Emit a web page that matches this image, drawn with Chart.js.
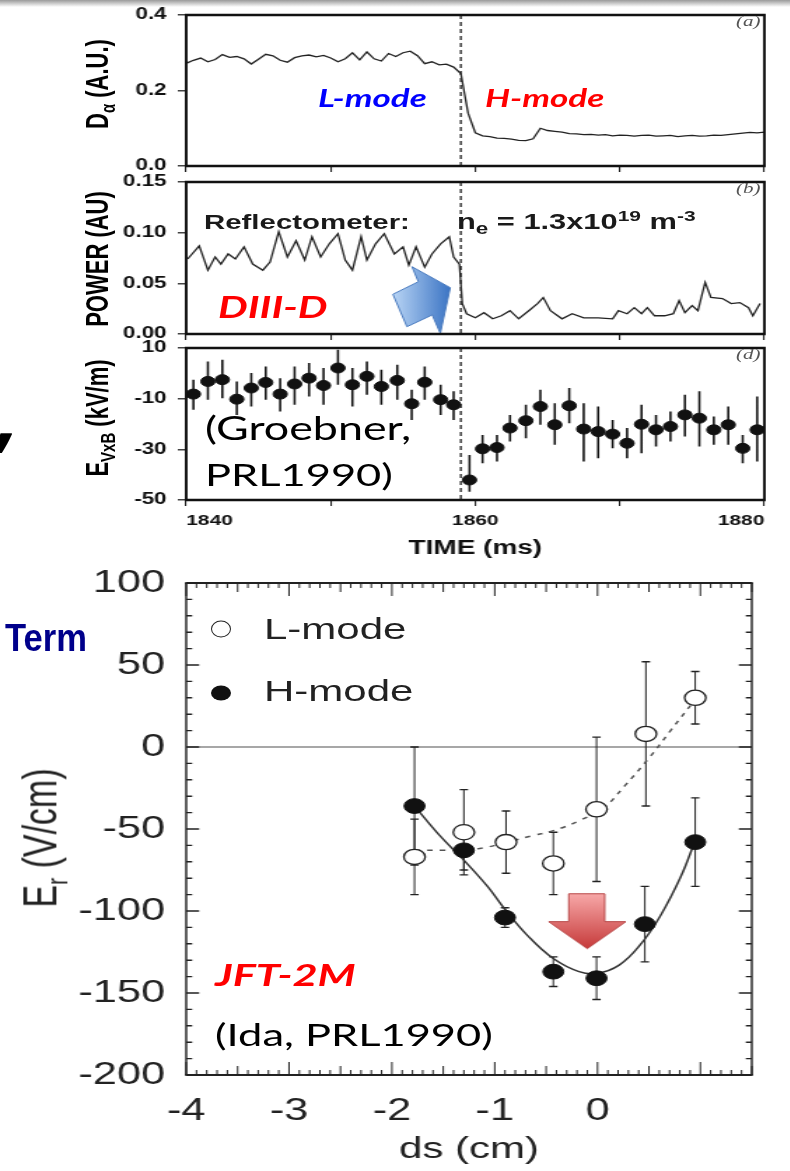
<!DOCTYPE html>
<html>
<head>
<meta charset="utf-8">
<script src="https://cdn.jsdelivr.net/npm/chart.js@4.4.1/dist/chart.umd.min.js"></script>
<style>
  body { margin: 0; width: 790px; height: 1171px; position: relative; overflow: hidden; background: #fff;
         font-family: 'Liberation Sans', Arial, sans-serif; }
  /* the source figure is stretched sideways ~1.4x, so charts are drawn narrow and widened */
  .cw { position: absolute; left: 0; transform-origin: 0 0; transform: scaleX(1.4); }
  canvas { display: block; }
  .topbar { position: absolute; left: 0; top: 0; width: 790px; height: 7px; background: linear-gradient(#9a9a9a, #fff); }
  .t { position: absolute; white-space: nowrap; line-height: 1; transform-origin: 0 50%; transform: translateY(-50%) scaleX(1.4); }
  .yt { position: absolute; white-space: nowrap; line-height: 1; transform: translate(-50%, -50%) scaleX(1.4) rotate(-90deg); }
  .cal { font-family: Lato, 'Open Sans', sans-serif; }
  .mode { font-family: Lato, 'Open Sans', sans-serif; font-weight: bold; font-style: italic; }
  .tag { font-family: 'Liberation Serif', serif; font-style: italic; font-size: 15px; color: #555; }
  .mk { position: absolute; border-radius: 50%; box-sizing: border-box; transform: translate(-50%, -50%); }
  sub, sup { line-height: 0; }
</style>
</head>
<body>
<div class="topbar"></div>
<div class="cw" style="top:0"><canvas id="cA" width="564" height="172"></canvas></div>
<div class="cw" style="top:172px"><canvas id="cB" width="564" height="168"></canvas></div>
<div class="cw" style="top:340px"><canvas id="cD" width="564" height="232"></canvas></div>
<div class="cw" style="top:560px"><canvas id="cE" width="564" height="611"></canvas></div>

<!-- top panels: axis titles + notes -->
<div class="yt" style="left:98px;top:84px;font:bold 22px 'Liberation Sans'">D<sub style="font-size:15px">α</sub> (A.U.)</div>
<div class="yt" style="left:98px;top:259px;font:bold 22px 'Liberation Sans'">POWER (AU)</div>
<div class="yt" style="left:98px;top:418px;font:bold 22px 'Liberation Sans'">E<sub style="font-size:15px">VxB</sub> (kV/m)</div>
<div class="t tag" style="left:736px;top:21px">(a)</div>
<div class="t tag" style="left:736px;top:188px">(b)</div>
<div class="t tag" style="left:736px;top:354px">(d)</div>
<div class="t mode" style="left:318px;top:97px;font-size:25px;color:#0000ff">L-mode</div>
<div class="t mode" style="left:485px;top:97px;font-size:25px;color:#ff0000">H-mode</div>
<div class="t" style="left:204px;top:222px;font:bold 21px 'Liberation Sans';color:#1a1a1a">Reflectometer:</div>
<div class="t" style="left:457px;top:222px;font:bold 22px 'Liberation Sans';color:#1a1a1a">n<sub style="font-size:16px">e</sub> = 1.3x10<sup style="font-size:15px">19</sup> m<sup style="font-size:15px">-3</sup></div>
<div class="t mode" style="left:218px;top:306px;font-size:30px;color:#ff0000">DIII-D</div>
<div class="t cal" style="left:205px;top:428px;font-size:32px;color:#000">(Groebner,</div>
<div class="t cal" style="left:205px;top:474px;font-size:31px;color:#000">PRL1990)</div>
<div style="position:absolute;left:-3px;top:372px;font:bold italic 80px 'Open Sans';line-height:1;color:#000">,</div>
<div class="t" style="left:5px;top:638px;font:bold 38px 'Liberation Sans';color:#00008b;transform:translateY(-50%) scaleX(0.91)">Term</div>

<!-- bottom chart: title, legend, notes -->
<div class="yt" style="left:40px;top:838px;font-size:34px;color:#222">E<sub style="font-size:21px">r</sub> (V/cm)</div>
<div class="mk" style="left:221px;top:629px;width:20px;height:17px;border:1.6px solid #222;background:#fff"></div>
<div class="t" style="left:264px;top:629px;font-size:30px;color:#222">L-mode</div>
<div class="mk" style="left:221px;top:693px;width:20px;height:15px;background:#111"></div>
<div class="t" style="left:264px;top:691px;font-size:30px;color:#222">H-mode</div>
<div class="t mode" style="left:215px;top:974px;font-size:31px;color:#ff0000">JFT-2M</div>
<div class="t cal" style="left:215px;top:1034px;font-size:31px;color:#000">(Ida, PRL1990)</div>

<script>
// ── panel (a): D-alpha trace
const daTime = [1840,1840.5,1841,1841.5,1842,1842.5,1843,1843.5,1844,1844.5,1845,1845.5,1846,1846.5,1847,1847.5,1848,1848.5,1849,1849.5,
  1850,1850.5,1851,1851.5,1852,1852.5,1853,1853.5,1854,1854.5,1855,1855.5,1856,1856.5,1857,1857.5,1858,1858.5,1859,1859.5,
  1860,1860.5,1861,1861.5,1862,1862.5,1863,1863.5,1864,1864.5,1865,1865.5,1866,1866.5,1867,1867.5,1868,1868.5,1869,1869.5,
  1870,1870.5,1871,1871.5,1872,1872.5,1873,1873.5,1874,1874.5,1875,1875.5,1876,1876.5,1877,1877.5,1878,1878.5,1879,1879.5,1880];
const daVal = [0.272,0.280,0.286,0.276,0.282,0.295,0.288,0.290,0.284,0.270,
  0.283,0.296,0.292,0.280,0.275,0.287,0.292,0.294,0.289,0.293,
  0.286,0.276,0.284,0.300,0.281,0.302,0.284,0.278,0.298,0.290,
  0.300,0.304,0.292,0.271,0.276,0.268,0.270,0.262,0.245,0.140,
  0.088,0.080,0.078,0.074,0.073,0.071,0.068,0.067,0.072,0.100,
  0.094,0.092,0.090,0.086,0.085,0.083,0.084,0.082,0.083,0.080,
  0.082,0.081,0.079,0.081,0.082,0.079,0.080,0.081,0.078,0.080,
  0.081,0.079,0.080,0.082,0.081,0.083,0.085,0.087,0.089,0.088,0.090];

// ── panel (b): reflectometer power
const pTime = [1840.1,1840.9,1841.5,1842.0,1842.4,1842.9,1843.4,1844.0,1844.6,1845.3,
  1845.8,1846.4,1847.0,1847.6,1848.2,1848.7,1849.3,1849.9,1850.5,1851.0,
  1851.5,1852.1,1852.5,1853.1,1853.7,1854.4,1855.0,1855.4,1855.9,1856.5,
  1857.0,1857.6,1858.2,1858.5,1858.9,1859.1,1859.4,1860.0,1860.6,1861.2,
  1861.8,1862.4,1863.0,1863.7,1864.3,1864.7,1865.2,1866.0,1866.7,1867.5,
  1868.5,1869.5,1869.9,1870.5,1871.0,1871.5,1871.9,1872.4,1873.1,1873.7,
  1874.1,1874.5,1875.0,1875.4,1875.9,1876.3,1877.1,1877.7,1878.3,1878.9,1879.2,1879.7];
const pVal = [0.074,0.087,0.063,0.076,0.069,0.079,0.074,0.086,0.069,0.063,
  0.071,0.101,0.076,0.092,0.073,0.096,0.076,0.089,0.099,0.073,
  0.063,0.096,0.073,0.089,0.099,0.079,0.086,0.068,0.086,0.066,
  0.079,0.089,0.096,0.076,0.069,0.030,0.020,0.016,0.021,0.015,
  0.018,0.023,0.015,0.023,0.030,0.036,0.023,0.015,0.020,0.016,
  0.016,0.015,0.023,0.020,0.026,0.020,0.026,0.018,0.018,0.020,
  0.033,0.021,0.028,0.023,0.051,0.036,0.035,0.030,0.031,0.026,0.018,0.030];

// ── panel (d): E_VxB with error bars
const eTime = [1840.5,1841.5,1842.5,1843.5,1844.5,1845.5,1846.5,1847.5,1848.5,1849.5,
  1850.5,1851.5,1852.5,1853.5,1854.6,1855.6,1856.5,1857.6,1858.5,1859.6,
  1860.5,1861.5,1862.4,1863.5,1864.5,1865.5,1866.5,1867.5,1868.5,1869.5,
  1870.5,1871.5,1872.5,1873.5,1874.5,1875.5,1876.5,1877.5,1878.5,1879.5];
const eVal = [-8.2,-3.2,-2.5,-10.2,-5.8,-3.6,-8.2,-4.2,-1.9,-4.8,
  2.1,-4.5,-1.2,-5.2,-2.8,-12.0,-3.5,-10.4,-12.4,-42.1,
  -29.8,-29.3,-21.6,-18.7,-13.1,-20.3,-12.8,-22.0,-23.0,-24.0,
  -27.6,-20.1,-22.3,-21.0,-16.4,-17.7,-22.3,-20.3,-29.6,-22.3];
const eHi = [-2.5,4.7,5.4,-3.2,0.1,2.7,-1.9,2.7,4.1,2.1,
  9.3,2.1,4.7,1.4,3.4,-6.5,2.7,-4.5,-7.1,-32.2,
  -24.3,-24.3,-16.4,-12.4,-6.5,-11.8,-5.8,-11.8,-13.1,-18.4,
  -21.6,-12.4,-16.4,-15.1,-8.5,-7.1,-17.0,-13.1,-24.3,-9.1];
const eLo = [-14.4,-10.4,-9.8,-16.4,-13.1,-10.4,-15.1,-12.4,-9.1,-12.4,
  -4.5,-13.1,-8.5,-12.4,-10.4,-18.4,-10.4,-16.4,-18.4,-46.7,
  -35.5,-34.8,-26.9,-25.6,-20.3,-28.2,-19.7,-34.8,-33.5,-29.6,
  -33.5,-31.5,-28.9,-26.9,-24.9,-28.9,-28.2,-28.2,-35.5,-34.8];
const transitionTime = 1859;

// ── bottom: Er profile (JFT-2M)
const lX = [-1.78,-1.30,-0.89,-0.43,-0.01,0.47,0.95];
const lY = [-67,-52,-58,-71,-38,8,30];
const lErr = [23,26,19,19,44,44,16];
const hX = [-1.78,-1.30,-0.90,-0.43,-0.01,0.46,0.95];
const hY = [-36,-63,-104,-137,-141,-108,-58];
const hErr = [36,12,6,9,13,23,27];
const hFitX = [-1.78,-1.52,-1.30,-1.07,-0.90,-0.68,-0.43,-0.18,0,0.21,0.41,0.61,0.81,0.95];
const hFitY = [-36,-55,-69,-85,-99,-115,-129,-137,-138,-133,-121,-103,-79,-57];
const lFitX = [-1.78,-1.52,-1.30,-1.07,-0.88,-0.63,-0.43,-0.18,0.06,0.26,0.51,0.71,0.95];
const lFitY = [-63,-63,-63,-61,-58,-54,-51,-45,-37,-24,-6,10,29];

// annotation arrows, in axis units
const blueArrowT = [1855.62,1858.27,1857.58,1857.02,1855.27,1854.30,1856.06];
const blueArrowV = [0.0664,0.0457,0.0007,0.0188,0.0072,0.0392,0.0516];
const redArrowX = [-0.28,0.07,0.07,0.275,-0.10,-0.475,-0.28];
const redArrowY = [-89.5,-89.5,-106.5,-106.5,-123,-106.5,-106.5];

const S = 1.4; // sideways stretch of the wrappers
const pts = (xs, ys) => xs.map((v, i) => ({ x: v, y: ys[i] }));

// ── plugins
const framePlugin = {
  id: 'frame',
  afterDraw(chart, args, o) {
    if (!o.width) return;
    const { ctx, chartArea: a } = chart;
    ctx.save();
    ctx.strokeStyle = o.color;
    ctx.lineWidth = o.width;
    ctx.beginPath();
    ctx.moveTo(a.left - o.width / S / 2, a.top); ctx.lineTo(a.right + o.width / S / 2, a.top);
    ctx.moveTo(a.left - o.width / S / 2, a.bottom); ctx.lineTo(a.right + o.width / S / 2, a.bottom);
    ctx.stroke();
    ctx.lineWidth = o.width / S;
    ctx.beginPath();
    ctx.moveTo(a.left, a.top); ctx.lineTo(a.left, a.bottom);
    ctx.moveTo(a.right, a.top); ctx.lineTo(a.right, a.bottom);
    ctx.stroke();
    ctx.restore();
  }
};

const transitionPlugin = {
  id: 'transition',
  beforeDatasetsDraw(chart, args, o) {
    if (!o.at) return;
    const { ctx, chartArea: a, scales: { x } } = chart;
    const px = x.getPixelForValue(o.at);
    ctx.save();
    ctx.strokeStyle = '#333'; ctx.lineWidth = 2 / S; ctx.setLineDash([4, 3]);
    ctx.beginPath(); ctx.moveTo(px, a.top); ctx.lineTo(px, a.bottom); ctx.stroke();
    ctx.restore();
  }
};

const zeroLinePlugin = {
  id: 'zeroLine',
  beforeDatasetsDraw(chart, args, o) {
    if (!o.on) return;
    const { ctx, chartArea: a, scales: { y } } = chart;
    const py = y.getPixelForValue(0);
    ctx.save();
    ctx.strokeStyle = '#8a8a8a'; ctx.lineWidth = 1.5;
    ctx.beginPath(); ctx.moveTo(a.left, py); ctx.lineTo(a.right, py); ctx.stroke();
    ctx.restore();
  }
};

const errorBarPlugin = {
  id: 'errorBars',
  beforeDatasetsDraw(chart) {
    const { ctx, scales: { x, y } } = chart;
    chart.data.datasets.forEach(ds => {
      if (!ds.errHi) return;
      ctx.save();
      ctx.strokeStyle = ds.errColor || '#111';
      ctx.lineWidth = (ds.errWidth || 1.5) / S;
      ctx.beginPath();
      ds.data.forEach((p, j) => {
        const px = x.getPixelForValue(p.x);
        ctx.moveTo(px, y.getPixelForValue(ds.errHi[j]));
        ctx.lineTo(px, y.getPixelForValue(ds.errLo[j]));
      });
      ctx.stroke();
      if (ds.capW) {
        ctx.lineWidth = ds.errWidth || 1.5;
        ctx.beginPath();
        ds.data.forEach((p, j) => {
          const px = x.getPixelForValue(p.x);
          [ds.errHi[j], ds.errLo[j]].forEach(v => {
            const py = y.getPixelForValue(v);
            ctx.moveTo(px - ds.capW, py); ctx.lineTo(px + ds.capW, py);
          });
        });
        ctx.stroke();
      }
      ctx.restore();
    });
  }
};

const innerTicksPlugin = {
  id: 'innerTicks',
  afterDraw(chart, args, o) {
    if (!o.on) return;
    const { ctx, chartArea: a, scales: { x, y } } = chart;
    ctx.save();
    ctx.strokeStyle = '#222';
    ctx.lineWidth = 1.4 / S;
    ctx.beginPath();
    const nx = Math.round((x.max - x.min) / 0.1);
    for (let i = 0; i <= nx; i++) {
      const px = x.getPixelForValue(x.min + i * 0.1);
      const len = i % 10 === 0 ? 13 : (i % 5 === 0 ? 9 : 5);
      ctx.moveTo(px, a.bottom); ctx.lineTo(px, a.bottom - len);
      ctx.moveTo(px, a.top); ctx.lineTo(px, a.top + len);
    }
    ctx.stroke();
    ctx.lineWidth = 1.4;
    ctx.beginPath();
    const ny = Math.round((y.max - y.min) / 10);
    for (let i = 0; i <= ny; i++) {
      const py = y.getPixelForValue(y.min + i * 10);
      const len = (i % 5 === 0 ? 13 : 6) / S;
      ctx.moveTo(a.left, py); ctx.lineTo(a.left + len, py);
      ctx.moveTo(a.right, py); ctx.lineTo(a.right - len, py);
    }
    ctx.stroke();
    ctx.restore();
  }
};

const arrowPlugin = {
  id: 'arrow',
  afterDatasetsDraw(chart, args, o) {
    if (!o.xs) return;
    const { ctx, scales: { x, y } } = chart;
    const p = o.xs.map((v, i) => [x.getPixelForValue(v), y.getPixelForValue(o.ys[i])]);
    const px = p.map(q => q[0]), py = p.map(q => q[1]);
    const g = o.vertical
      ? ctx.createLinearGradient(0, Math.min(...py), 0, Math.max(...py))
      : ctx.createLinearGradient(Math.min(...px), 0, Math.max(...px), 0);
    g.addColorStop(0, o.c0); g.addColorStop(1, o.c1);
    ctx.save();
    ctx.beginPath();
    p.forEach((q, i) => i ? ctx.lineTo(q[0], q[1]) : ctx.moveTo(q[0], q[1]));
    ctx.closePath();
    ctx.fillStyle = g; ctx.fill();
    ctx.strokeStyle = o.stroke; ctx.lineWidth = 1; ctx.stroke();
    ctx.restore();
  }
};

Chart.register(framePlugin, transitionPlugin, zeroLinePlugin, errorBarPlugin, innerTicksPlugin, arrowPlugin);
Chart.defaults.font.family = "'Liberation Sans', Arial, sans-serif";
Chart.defaults.color = '#111';

// fixed axis sizes, no automatic label overflow padding
const fixW = w => s => { s.width = w; s.paddingTop = 0; s.paddingBottom = 0; };
const fixH = h => s => { s.height = h; s.paddingLeft = 0; s.paddingRight = 0; };

// ── shared builders for the three stacked DIII-D panels
function topY(min, max, step, digits) {
  return {
    min, max,
    afterFit: fixW(133),
    ticks: { stepSize: step, callback: v => Number(v).toFixed(digits), font: { size: 16, weight: 'bold' }, color: '#111', padding: 8 },
    grid: { drawOnChartArea: false, tickLength: 6, color: '#444', lineWidth: 1.5 },
    border: { display: false }
  };
}
function topX(withLabels) {
  return {
    type: 'linear', min: 1840, max: 1880,
    afterFit: fixH(withLabels ? 72 : 6),
    ticks: {
      display: withLabels, stepSize: 10, padding: 6, align: 'inner',
      font: { size: 15, weight: 'bold' }, color: '#111',
      callback: v => (v % 20 === 0 ? String(v) : '')
    },
    grid: { drawOnChartArea: false, tickLength: 6, color: '#222', lineWidth: 1.1 },
    border: { display: false },
    title: { display: withLabels, text: 'TIME (ms)', font: { size: 20, weight: 'bold' }, color: '#111', padding: { top: 0, bottom: 12 } }
  };
}
const topPlugins = (extra) => Object.assign({
  legend: { display: false }, tooltip: { enabled: false },
  frame: { width: 2.7, color: '#111' },
  transition: { at: transitionTime }
}, extra || {});

// panel (a)
new Chart(document.getElementById('cA'), {
  type: 'line',
  data: { datasets: [{ data: pts(daTime, daVal), borderColor: '#222', borderWidth: 1.3, pointRadius: 0, tension: 0 }] },
  options: {
    responsive: false, animation: false,
    layout: { padding: { top: 15, right: 18, left: 0, bottom: 0 } },
    scales: { x: topX(false), y: topY(0, 0.4, 0.2, 1) },
    plugins: topPlugins()
  }
});

// panel (b)
new Chart(document.getElementById('cB'), {
  type: 'line',
  data: { datasets: [{ data: pts(pTime, pVal), borderColor: '#222', borderWidth: 1.3, pointRadius: 0, tension: 0 }] },
  options: {
    responsive: false, animation: false,
    layout: { padding: { top: 10, right: 18, left: 0, bottom: 0 } },
    scales: { x: topX(false), y: topY(0, 0.15, 0.05, 2) },
    plugins: topPlugins({ arrow: { xs: blueArrowT, ys: blueArrowV, c0: '#b9d5f5', c1: '#3b74c4', stroke: '#4a7bbf' } })
  }
});

// panel (d)
new Chart(document.getElementById('cD'), {
  type: 'scatter',
  data: { datasets: [{
    data: pts(eTime, eVal), errHi: eHi, errLo: eLo, errWidth: 2.2, errColor: '#111',
    pointRadius: 5, backgroundColor: '#111', borderColor: '#111'
  }] },
  options: {
    responsive: false, animation: false,
    layout: { padding: { top: 8, right: 18, left: 0, bottom: 0 } },
    scales: { x: topX(true), y: topY(-50, 10, 20, 0) },
    plugins: topPlugins()
  }
});

// ── JFT-2M Er profile
new Chart(document.getElementById('cE'), {
  type: 'scatter',
  data: { datasets: [
    { data: pts(hX, hY), errHi: hY.map((v, i) => v + hErr[i]), errLo: hY.map((v, i) => v - hErr[i]),
      capW: 3, errWidth: 1.4, errColor: '#222',
      pointRadius: 7.4, backgroundColor: '#111', borderColor: '#111' },
    { data: pts(lX, lY), errHi: lY.map((v, i) => v + lErr[i]), errLo: lY.map((v, i) => v - lErr[i]),
      capW: 3, errWidth: 1.4, errColor: '#222',
      pointRadius: 7.6, backgroundColor: '#fff', borderColor: '#222', borderWidth: 1.3 },
    { data: pts(lFitX, lFitY), showLine: true, pointRadius: 0, borderColor: '#555', borderWidth: 1.5, borderDash: [4, 5], tension: 0.4 },
    { data: pts(hFitX, hFitY), showLine: true, pointRadius: 0, borderColor: '#333', borderWidth: 1.5, tension: 0.4 }
  ] },
  options: {
    responsive: false, animation: false,
    layout: { padding: { top: 23, right: 27, left: 0, bottom: 0 } },
    scales: {
      x: {
        type: 'linear', min: -4, max: 1.5,
        afterFit: fixH(96),
        afterBuildTicks: s => { s.ticks = s.ticks.filter(t => Number.isInteger(t.value)); },
        ticks: { stepSize: 1, padding: 18, font: { size: 31 }, color: '#222' },
        grid: { display: false, drawTicks: false },
        border: { display: false },
        title: { display: true, text: 'ds (cm)', font: { size: 30 }, color: '#222', padding: { top: 0, bottom: 3 } }
      },
      y: {
        min: -200, max: 100,
        afterFit: fixW(133),
        ticks: { stepSize: 50, padding: 15, font: { size: 31 }, color: '#222' },
        grid: { display: false, drawTicks: false },
        border: { display: false }
      }
    },
    plugins: {
      legend: { display: false }, tooltip: { enabled: false },
      frame: { width: 2, color: '#222' },
      zeroLine: { on: true },
      innerTicks: { on: true },
      arrow: { xs: redArrowX, ys: redArrowY, vertical: true, c0: '#f7a8a8', c1: '#c63a3a', stroke: '#b84848' }
    }
  }
});
</script>
</body>
</html>
